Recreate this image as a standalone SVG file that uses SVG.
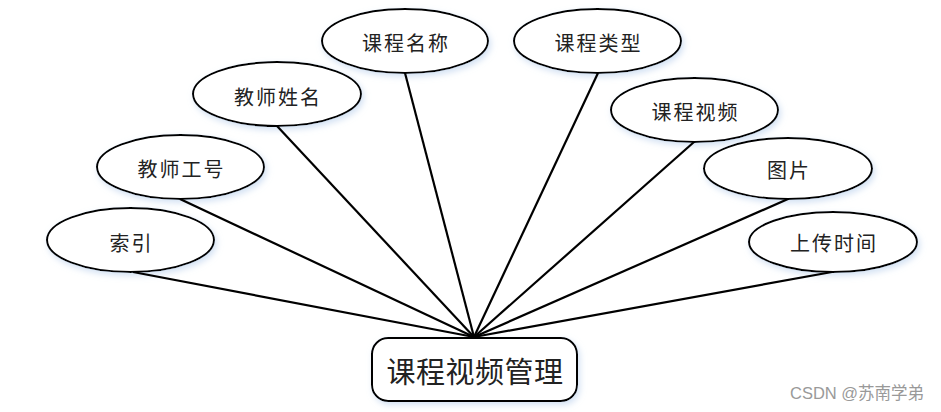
<svg xmlns="http://www.w3.org/2000/svg" width="941" height="412" viewBox="0 0 941 412">
<defs>
<filter id="glow" x="-20%" y="-30%" width="140%" height="160%">
<feGaussianBlur in="SourceAlpha" stdDeviation="3" result="b"/>
<feFlood flood-color="#c8daf0" flood-opacity="0.8"/>
<feComposite in2="b" operator="in" result="s"/>
<feOffset dx="2" dy="3" result="o"/>
<feMerge><feMergeNode in="o"/><feMergeNode in="SourceGraphic"/></feMerge>
</filter>
</defs>
<style>
.attr ellipse{fill:#fff;stroke:#000;stroke-width:2}
.lbl{font-family:"Noto Sans CJK SC","Liberation Sans",sans-serif;font-size:20px;letter-spacing:2px;fill:#222;text-anchor:middle;dominant-baseline:central}
.title{font-size:29px;letter-spacing:0.5px}
.conn line{stroke:#000;stroke-width:2.2}
.wm{font-family:"Liberation Sans","Noto Sans CJK SC",sans-serif;font-size:16.5px;fill:#999}
</style>
<rect width="941" height="412" fill="#fff"/>
<g id="n-kcmc" class="attr"><ellipse cx="405" cy="41" rx="83" ry="32" filter="url(#glow)"/><text class="lbl" x="406" y="42">课程名称</text></g>
<g id="n-kclx" class="attr"><ellipse cx="597.5" cy="41" rx="83.5" ry="32" filter="url(#glow)"/><text class="lbl" x="598.5" y="42">课程类型</text></g>
<g id="n-jsxm" class="attr"><ellipse cx="277" cy="94" rx="84" ry="32" filter="url(#glow)"/><text class="lbl" x="278" y="96">教师姓名</text></g>
<g id="n-kcsp" class="attr"><ellipse cx="694.5" cy="110" rx="83.5" ry="32" filter="url(#glow)"/><text class="lbl" x="695.5" y="111">课程视频</text></g>
<g id="n-jsgh" class="attr"><ellipse cx="180.5" cy="167" rx="83.5" ry="32" filter="url(#glow)"/><text class="lbl" x="181.5" y="168">教师工号</text></g>
<g id="n-tp" class="attr"><ellipse cx="788" cy="168.5" rx="84" ry="30.5" filter="url(#glow)"/><text class="lbl" x="789" y="169">图片</text></g>
<g id="n-sy" class="attr"><ellipse cx="130.5" cy="240" rx="83.5" ry="32" filter="url(#glow)"/><text class="lbl" x="131.5" y="242">索引</text></g>
<g id="n-scsj" class="attr"><ellipse cx="833" cy="242" rx="84" ry="30" filter="url(#glow)"/><text class="lbl" x="834" y="242">上传时间</text></g>
<g id="n-main"><rect x="372" y="338" width="205" height="63" rx="16" fill="#fff" stroke="#000" stroke-width="2" filter="url(#glow)"/><text class="lbl title" x="475" y="370">课程视频管理</text></g>
<g id="connectors" class="conn">
<line x1="133" y1="272" x2="474" y2="337"/>
<line x1="180" y1="199" x2="474" y2="337"/>
<line x1="277" y1="126" x2="474" y2="337"/>
<line x1="405" y1="73" x2="474" y2="337"/>
<line x1="598" y1="73" x2="474" y2="337"/>
<line x1="694" y1="142" x2="474" y2="337"/>
<line x1="788" y1="199" x2="474" y2="337"/>
<line x1="832" y1="272" x2="474" y2="337"/>
</g>
<text class="wm" x="790" y="399">CSDN @苏南学弟</text>
</svg>
